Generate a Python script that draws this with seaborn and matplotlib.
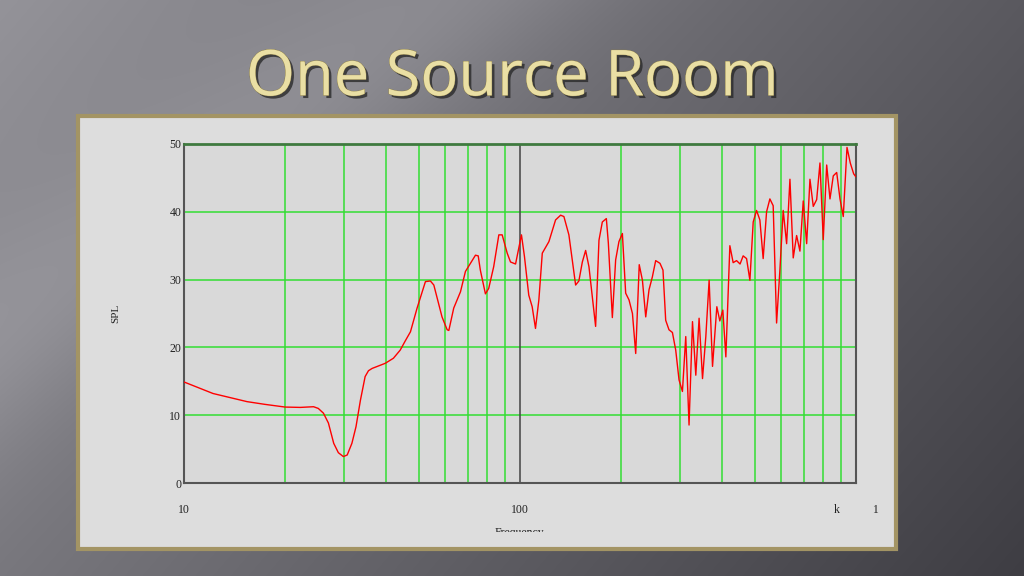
import numpy as np
import matplotlib
matplotlib.use("Agg")
import matplotlib.pyplot as plt
import matplotlib.patheffects as pe
from matplotlib.patches import Rectangle
import seaborn as sns
import pandas as pd

# ---- data ----
freq = [10.0, 11.16, 12.2, 13.7, 15.4, 17.4, 20.0, 22.2, 24.3, 25.1, 26.0, 26.9, 27.9,
        28.8, 29.8, 30.6, 31.6, 32.5, 33.5, 34.6, 35.4, 36.3, 39.7, 42.0,
        44.0, 45.6, 47.2, 49.4, 52.3, 54.1, 55.4, 58.6, 60.7, 61.4, 63.5, 66.5, 68.8,
        71.2, 73.7, 75.1, 76.2, 78.9, 80.7, 83.5, 86.5, 88.5, 91.6, 93.7, 97.0, 101.0,
        103.1, 106.2, 108.7, 111.2, 113.8, 116.5, 121.9, 127.6, 132.1, 135.1, 139.8,
        146.4, 149.7, 153.3, 156.8, 160.4, 167.9, 171.8, 175.8, 180.7, 183.2, 188.3,
        192.6, 197.0, 201.7, 206.3, 211.1, 216.1, 221.0, 226.4, 231.4, 236.7, 242.1,
        247.7, 253.4, 261.0, 266.4, 271.4, 277.6, 284.2, 290.7, 297.4, 304.4, 311.4,
        318.5, 326.1, 333.6, 341.2, 349.3, 357.3, 365.5, 374.1, 385.3, 393.3, 401.5,
        409.9, 421.3, 430.9, 441.1, 451.8, 461.5, 472.4, 483.3, 494.4, 505.8, 517.5,
        529.3, 541.8, 554.2, 566.9, 580.3, 593.6, 607.2, 621.6, 635.9, 650.4, 665.7,
        681.0, 696.6, 713.1, 729.4, 746.1, 763.8, 781.2, 799.0, 818.0, 836.7, 855.8,
        876.1, 896.1, 916.5, 940.2, 961.6, 984.2, 998.0]
spl = [14.9, 13.97, 13.2, 12.6, 12.0, 11.6, 11.2, 11.15, 11.25, 11.0, 10.3, 8.85, 5.85,
       4.47, 3.9, 4.13, 5.85, 8.3, 12.2, 15.7, 16.56, 16.9, 17.65, 18.4,
       19.6, 21.0, 22.3, 25.8, 29.7, 29.8, 29.2, 24.5, 22.6, 22.5, 25.8, 28.2, 31.2,
       32.4, 33.6, 33.5, 31.4, 27.9, 28.7, 31.9, 36.6, 36.6, 33.9, 32.6, 32.3, 36.6,
       33.4, 27.7, 26.0, 22.8, 27.0, 33.9, 35.6, 38.8, 39.5, 39.3, 36.6,
       29.2, 29.8, 32.6, 34.3, 31.9, 23.1, 35.8, 38.5, 39.0, 35.4, 24.4,
       32.9, 35.6, 36.8, 28.0, 27.0, 25.0, 19.1, 32.2, 29.9, 24.5, 28.5,
       30.4, 32.8, 32.4, 31.4, 24.0, 22.6, 22.2, 19.6, 15.2, 13.5, 21.6,
       8.55, 23.8, 15.9, 24.3, 15.4, 21.6, 29.9, 17.2, 26.0, 23.9, 25.5,
       18.6, 35.0, 32.5, 32.8, 32.3, 33.5, 33.1, 29.9, 38.5, 40.2, 38.8,
       33.1, 40.0, 41.9, 40.9, 23.6, 31.4, 40.2, 35.3, 44.8, 33.2, 36.5,
       34.2, 41.6, 35.3, 44.8, 40.8, 41.8, 47.2, 35.9, 46.9, 41.9, 45.3,
       45.8, 41.9, 39.3, 49.5, 47.2, 45.6, 45.2]
y_ticks = [0, 10, 20, 30, 40, 50]
x_ticks = [10, 100, 1000]
x_ticklabels = ["10", "100", "k           1"]
x_minor = [20, 30, 40, 50, 60, 70, 80, 90, 200, 300, 400, 500, 600, 700, 800, 900]
title = "One Source Room"

W, H = 1024, 576
fig = plt.figure(figsize=(W / 100, H / 100), dpi=100)

# ---- slide background gradient ----
bg = fig.add_axes([0, 0, 1, 1])
bg.set_axis_off()
yy, xx = np.mgrid[0:H, 0:W]
u = xx / W
v = yy / H
base = 150 - 58 * u - 28 * v
band = 16 * np.exp(-((u * 0.8 + v * 0.6 - 0.35) / 0.12) ** 2)
val = np.clip(base + band, 0, 255)
img = np.stack([val - 2, val - 3, val + 3], axis=-1) / 255.0
bg.imshow(np.clip(img, 0, 1), extent=[0, W, H, 0], aspect="auto")
bg.set_xlim(0, W)
bg.set_ylim(H, 0)

# panel
bg.add_patch(Rectangle((78, 116), 818, 433, facecolor="#dddddd",
                       edgecolor="#a39464", linewidth=3))

# title
bg.text(512, 79, title, ha="center", va="center", fontsize=45.5, family="Open Sans",
        color="#eadfa4",
        path_effects=[pe.withSimplePatchShadow(offset=(2, -2), shadow_rgbFace="#2a2a2a", alpha=0.8),
                      pe.Stroke(linewidth=0.6, foreground="#8a7d4a"), pe.Normal()])

# ---- chart ----
ax = fig.add_axes([184 / W, 1 - 483 / H, (856 - 184) / W, (483 - 144) / H])
ax.set_facecolor("#d9d9d9")
ax.set_xscale("log")
ax.set_xlim(10, 1000)
ax.set_ylim(0, 50)

for yv in y_ticks[1:-1]:
    ax.axhline(yv, color="#33dd33", lw=1.1, zorder=1)
for xv in x_minor:
    ax.axvline(xv, color="#33dd33", lw=1.1, zorder=1)
ax.axvline(100, color="#444444", lw=1.1, zorder=1)

df = pd.DataFrame({"Frequency": freq, "SPL": spl})
sns.lineplot(data=df, x="Frequency", y="SPL", color="red", lw=1.0, ax=ax,
             zorder=3, estimator=None, sort=False)

ax.set_xticks(x_ticks)
ax.set_xticklabels(x_ticklabels)
ax.set_xticks([], minor=True)
ax.set_yticks(y_ticks)
ax.tick_params(axis="both", length=0, labelsize=8.5, labelcolor="#222222")
ax.tick_params(axis="x", pad=15)
ax.tick_params(axis="y", pad=2)
for lab in ax.get_xticklabels() + ax.get_yticklabels():
    lab.set_family("Liberation Serif")
ax.set_xlabel("")
ax.set_ylabel("")

for s in ["left", "right", "bottom"]:
    ax.spines[s].set_color("#555555")
    ax.spines[s].set_linewidth(1.5)
ax.spines["top"].set_color("#3f7a3f")
ax.spines["top"].set_linewidth(2)

# axis titles on the slide
bg.text(116, 313, "SPL", rotation=90, ha="center", va="center", fontsize=8,
        family="Liberation Serif", color="#222222")
clip_ax = fig.add_axes([0, 1 - 532 / H, 1, 8 / H])
clip_ax.set_axis_off()
clip_ax.set_xlim(0, W)
clip_ax.set_ylim(532, 524)
clip_ax.text(519, 533, "Frequency", ha="center", va="center", fontsize=8.5,
             family="Liberation Serif", color="#222222", clip_on=True)

fig.savefig("out.png", dpi=100)
